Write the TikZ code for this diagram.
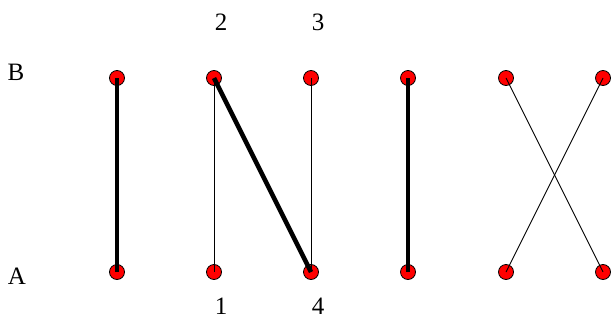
\documentclass[tikz,border=0pt]{standalone}
\usepackage{fontspec}
\setmainfont{Liberation Serif}

\begin{document}
\begin{tikzpicture}[x=1pt,y=-1pt,
  dot/.style={circle,fill=red,draw=black,line width=0.8pt,minimum size=15pt,inner sep=0pt},
  lbl/.style={font=\fontsize{25}{28}\selectfont,inner sep=0pt},
  thick edge/.style={line width=4.5pt},
  thin edge/.style={line width=0.9pt}]
\useasboundingbox (0,0) rectangle (612,321);
%row labels
\node[lbl] (B) at (16,72) {B};
\node[lbl] (A) at (17,276) {A};
%dots, top row t1..t6, bottom row b1..b6
\foreach \i/\x in {1/117,2/214,3/311,4/408,5/506,6/603}{
  \node[dot] (t\i) at (\x,78) {};
  \node[dot] (b\i) at (\x,272) {};
}
%numbers
\node[lbl] (n2) at (221,22) {2};
\node[lbl] (n3) at (318,22) {3};
\node[lbl] (n1) at (221,306) {1};
\node[lbl] (n4) at (318,306) {4};
%edges
\draw[thick edge] (b1.center) -- (t1.center);
\draw[thin edge] (b2.center) -- (t2.center);
\draw[thick edge] (t2.center) -- (b3.center);
\draw[thin edge] (t3.center) -- (b3.center);
\draw[thick edge] (b4.center) -- (t4.center);
\draw[thin edge] (t5.center) -- (b6.center);
\draw[thin edge] (t6.center) -- (b5.center);
\end{tikzpicture}
\end{document}
